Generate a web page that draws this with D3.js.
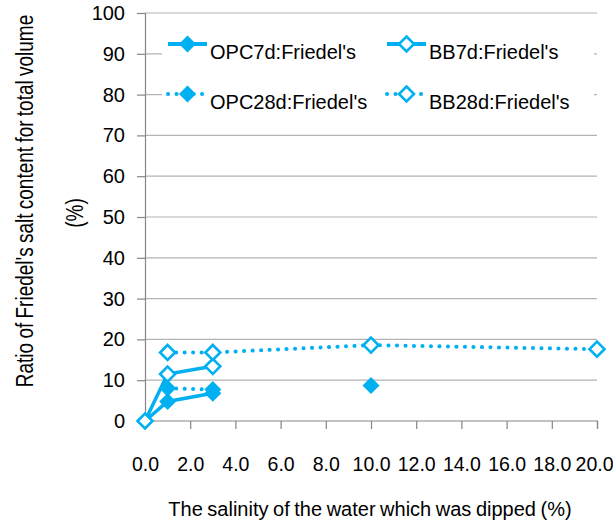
<!DOCTYPE html>
<html>
<head>
<meta charset="utf-8">
<script src="https://cdn.jsdelivr.net/npm/d3@7"></script>
<style>
  body { margin: 0; background: #fff; }
  text { font-family: "Liberation Sans", Arial, sans-serif; fill: #000; }
</style>
</head>
<body>
<div id="vis"></div>
<script>
// salinity (%) and Friedel's salt ratio (%)
const opc7dX = [0, 1, 3];
const opc7dY = [0, 4.8, 6.8];
const bb7dX = [0, 1, 3];
const bb7dY = [0, 11.5, 13.4];
const opc28dX = [1, 3, 5, 10];
const opc28dY = [8.0, 7.7, null, 8.7];
const bb28dX = [1, 3, 10, 20];
const bb28dY = [16.8, 16.8, 18.6, 17.6];

const xTicks = [0, 2, 4, 6, 8, 10, 12, 14, 16, 18, 20];
const yTicks = [0, 10, 20, 30, 40, 50, 60, 70, 80, 90, 100];

const seriesNames = ["OPC7d:Friedel's", "BB7d:Friedel's", "OPC28d:Friedel's", "BB28d:Friedel's"];

const options = {
  width: 613,
  height: 524,
  margin: { top: 13, right: 16, bottom: 103, left: 145 },
  color: "#00b0f0",
  grid: "#b3b3b3",
  axis: "#868686",
};

const series = [
  { name: seriesNames[0], xs: opc7dX, ys: opc7dY, dotted: false, open: false },
  { name: seriesNames[1], xs: bb7dX, ys: bb7dY, dotted: false, open: true },
  { name: seriesNames[2], xs: opc28dX, ys: opc28dY, dotted: true, open: false },
  { name: seriesNames[3], xs: bb28dX, ys: bb28dY, dotted: true, open: true },
].map((s) => ({ ...s, values: s.xs.map((x, i) => ({ x: x, y: s.ys[i] })) }));

const width = options.width - options.margin.left - options.margin.right;
const height = options.height - options.margin.top - options.margin.bottom;

const svg = d3
  .select("#vis")
  .append("svg")
  .attr("width", options.width)
  .attr("height", options.height);

const g = svg
  .append("g")
  .attr("transform", `translate(${options.margin.left},${options.margin.top})`);

const xScale = d3.scaleLinear().domain([0, 20]).range([0, width]);
const yScale = d3.scaleLinear().domain([0, 100]).range([height, 0]);

// gridlines
g.selectAll(".grid")
  .data(yTicks.filter((d) => d > 0))
  .join("line")
  .attr("x1", 0)
  .attr("x2", width)
  .attr("y1", (d) => yScale(d))
  .attr("y2", (d) => yScale(d))
  .attr("stroke", options.grid)
  .attr("stroke-width", 1.2);

// axes
const yAxis = g
  .append("g")
  .call(d3.axisLeft(yScale).tickValues(yTicks).tickSize(8).tickPadding(12).tickFormat(d3.format("d")));
yAxis.selectAll(".domain,.tick>line").attr("stroke", options.axis).attr("stroke-width", 1.2);
yAxis.selectAll(".tick>text").style("font-size", "20px").attr("fill", "#000");

const xAxis = g
  .append("g")
  .attr("transform", `translate(0,${height})`)
  .call(d3.axisBottom(xScale).tickValues(xTicks).tickSize(8).tickPadding(28).tickFormat(d3.format(".1f")));
xAxis.selectAll(".domain,.tick>line").attr("stroke", options.axis).attr("stroke-width", 1.2);
xAxis.select(".domain").attr("d", `M0.5,0H${width + 0.5}V8`);
xAxis.selectAll(".tick>text").style("font-size", "19.5px").attr("fill", "#000");
// pull the last label in so it stays on the page
xAxis.selectAll(".tick>text").filter((d) => d === 20).attr("dx", -3);

// axis titles
svg
  .append("text")
  .attr("x", 370)
  .attr("y", 516)
  .attr("text-anchor", "middle")
  .style("font-size", "20px")
  .style("word-spacing", "-1px")
  .text("The salinity of the water which was dipped (%)");

// the y title in the original is drawn taller than it is long, hence the stretch
const yStretch = 1.22;
const yTitle = svg
  .append("g")
  .attr("transform", `translate(0,201) rotate(-90) scale(1,${yStretch})`);
yTitle
  .append("text")
  .attr("x", 0)
  .attr("y", 33 / yStretch)
  .attr("text-anchor", "middle")
  .style("font-size", "19px")
  .style("word-spacing", "-1px")
  .text("Ratio of Friedel's salt content for total volume");
yTitle
  .append("text")
  .attr("x", -12)
  .attr("y", 83 / yStretch)
  .attr("text-anchor", "middle")
  .style("font-size", "19px")
  .text("(%)");

// marks
const diamond = (r) => `M0,${-r}L${r},0L0,${r}L${-r},0Z`;

const line = d3
  .line()
  .defined((d) => d.y != null)
  .x((d) => xScale(d.x))
  .y((d) => yScale(d.y));

function styleLine(sel, s) {
  sel
    .attr("fill", "none")
    .attr("stroke", options.color)
    .attr("stroke-width", s.dotted ? 4 : 3.5)
    .attr("stroke-linecap", s.dotted ? "round" : "butt")
    .attr("stroke-dasharray", s.dotted ? "0.1 8.4" : null);
}

function styleMarker(sel, s) {
  sel
    .attr("d", s.open ? diamond(7.5) : diamond(8.5))
    .attr("fill", s.open ? "#fff" : options.color)
    .attr("stroke", options.color)
    .attr("stroke-width", s.open ? 2.6 : 0);
}

series.forEach((s) => {
  g.append("path").datum(s.values).attr("d", line).call(styleLine, s);
});

series.forEach((s) => {
  g.selectAll(null)
    .data(s.values.filter((d) => d.y != null))
    .join("path")
    .attr("transform", (d) => `translate(${xScale(d.x)},${yScale(d.y)})`)
    .call(styleMarker, s);
});

// legend
const legend = svg.append("g");
legend
  .append("rect")
  .attr("x", 162)
  .attr("y", 25)
  .attr("width", 432)
  .attr("height", 95)
  .attr("fill", "#fff");

const legendPos = [
  { x: 168, y: 44 },
  { x: 387, y: 44 },
  { x: 168, y: 94 },
  { x: 387, y: 94 },
];

series.forEach((s, i) => {
  const p = legendPos[i];
  const item = legend.append("g").attr("transform", `translate(${p.x},${p.y})`);
  item
    .append("path")
    .attr("d", "M0,0H39")
    .call(styleLine, s)
    .attr("stroke-width", 4);
  item.append("path").attr("transform", "translate(19.5,0)").call(styleMarker, s);
  item
    .append("text")
    .attr("x", 42)
    .attr("y", 15)
    .style("font-size", "20px")
    .text(s.name);
});
</script>
</body>
</html>
